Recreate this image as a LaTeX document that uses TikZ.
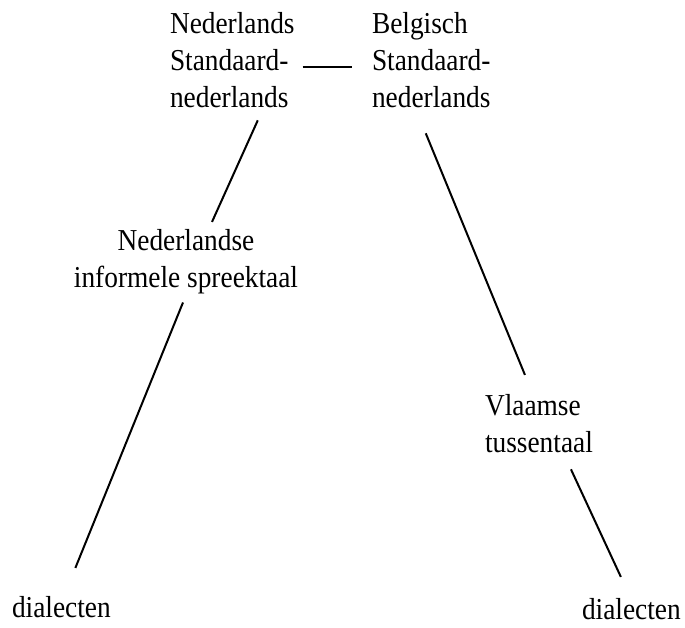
\documentclass[tikz,border=0pt]{standalone}
\usepackage{fontspec}
\setmainfont{Liberation Serif}[FakeStretch=0.9]
\usetikzlibrary{calc}

\begin{document}
\begin{tikzpicture}[x=0.5pt, y=-0.5pt,
    lbl/.style={inner sep=0pt, outer sep=0pt, anchor=base west, align=left,
        font=\fontsize{15.2pt}{18.5pt}\selectfont},
    link/.style={line width=1pt}]
\useasboundingbox (0,0) rectangle (685,627);

% Standard varieties (base = last line)
\node[lbl] (nl) at (170,107) {Nederlands\\Standaard-\\nederlands};
\node[lbl] (be) at (372,107) {Belgisch\\Standaard-\\nederlands};

% Informal speech
\node[lbl, anchor=base, align=center] (nis) at (186,287) {Nederlandse\\informele spreektaal};
\node[lbl] (vt) at (485,452) {Vlaamse\\tussentaal};

% Dialects
\node[lbl] (dl) at (12,617) {dialecten};
\node[lbl] (dr) at (582,619) {dialecten};

% Connectors
\draw[link] ($(nl.east)+(8,7)$) -- ($(be.west)+(-20,7)$);
\draw[link] ($(nl.south)+(25.5,13)$) -- ($(nis.north)+(26,-7)$);
\draw[link] ($(nis.south)+(-3,9)$) -- ($(dl.north)+(14,-28)$);
\draw[link] ($(be.south)+(-5.5,26)$) -- ($(vt.north)+(-14,-19)$);
\draw[link] ($(vt.south)+(32,17)$) -- ($(dr.north)+(-10.5,-21)$);
\end{tikzpicture}
\end{document}
